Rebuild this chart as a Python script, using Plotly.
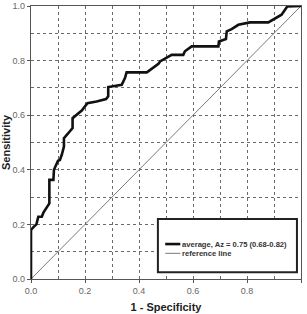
import plotly.graph_objects as go

# ROC curve points (1 - specificity, sensitivity)
fpr = [0.0, 0.0, 0.009, 0.02, 0.027, 0.04, 0.046, 0.058, 0.068, 0.068, 0.083, 0.085, 0.093,
       0.10, 0.107, 0.114, 0.122, 0.122, 0.138, 0.154, 0.154, 0.169, 0.188, 0.209, 0.243,
       0.278, 0.286, 0.286, 0.311, 0.336, 0.348, 0.354, 0.429, 0.453, 0.472, 0.478, 0.521,
       0.564, 0.57, 0.595, 0.694, 0.696, 0.722, 0.725, 0.743, 0.768, 0.811, 0.879, 0.916,
       0.928, 0.949, 1.0]
tpr = [0.0, 0.18, 0.19, 0.2, 0.228, 0.228, 0.243, 0.26, 0.277, 0.363, 0.363, 0.4, 0.418,
       0.433, 0.436, 0.455, 0.485, 0.516, 0.534, 0.553, 0.589, 0.601, 0.617, 0.644, 0.65,
       0.659, 0.669, 0.703, 0.708, 0.711, 0.736, 0.757, 0.757, 0.773, 0.788, 0.797, 0.821,
       0.821, 0.834, 0.852, 0.852, 0.87, 0.879, 0.907, 0.915, 0.931, 0.94, 0.94, 0.962,
       0.968, 0.998, 1.0]
ref_x = [0.0, 1.0]
ref_y = [0.0, 1.0]

legend_labels = ["average, Az = 0.75 (0.68-0.82)", "reference line"]
tick_vals = [0.0, 0.2, 0.4, 0.6, 0.8, 1.0]
tick_text = ["0.0", "0.2", "0.4", "0.6", "0.8", "1.0"]

FONT = "Liberation Sans, Arial, sans-serif"

fig = go.Figure()
fig.add_trace(go.Scatter(x=ref_x, y=ref_y, mode="lines",
                         line=dict(color="#7a7a7a", width=1), showlegend=False,
                         hoverinfo="skip"))
fig.add_trace(go.Scatter(x=fpr, y=tpr, mode="lines",
                         line=dict(color="#111111", width=2.6), showlegend=False))

axis_common = dict(
    range=[0, 1], tickvals=tick_vals, ticktext=tick_text,
    showgrid=True, gridcolor="#6a6a6a", griddash="dot", gridwidth=1,
    minor=dict(dtick=0.1, showgrid=True, gridcolor="#6a6a6a", griddash="dot", gridwidth=1),
    showline=True, linecolor="#555555", linewidth=1.2, mirror=True,
    ticks="outside", ticklen=3, tickcolor="#555555",
    tickfont=dict(family=FONT, size=9, color="#666666"),
    zeroline=False, fixedrange=True, automargin=False,
)
fig.update_xaxes(**axis_common,
                 title=dict(text="<b>1 - Specificity</b>", font=dict(family=FONT, size=11, color="#222222"),
                            standoff=8))
fig.update_yaxes(**axis_common,
                 title=dict(text="<b>Sensitivity</b>", font=dict(family=FONT, size=11, color="#222222"),
                            standoff=4))

# Legend box (drawn manually)
fig.add_shape(type="rect", xref="paper", yref="paper", x0=0.47, x1=0.985, y0=0.025, y1=0.22,
              line=dict(color="#222222", width=2), fillcolor="white", layer="above")
row_y = [0.128, 0.094]
widths = [2.6, 1]
colors = ["#111111", "#7a7a7a"]
for lbl, yy, w, c in zip(legend_labels, row_y, widths, colors):
    fig.add_shape(type="line", xref="paper", yref="paper", x0=0.497, x1=0.553, y0=yy, y1=yy,
                  line=dict(color=c, width=w), layer="above")
    fig.add_annotation(text="<b>" + lbl + "</b>", xref="paper", yref="paper", x=0.553, y=yy,
                       xanchor="left", yanchor="middle", showarrow=False,
                       font=dict(family=FONT, size=7.6, color="#333333"))

fig.update_layout(
    width=307, height=314,
    margin=dict(l=31, r=6, t=6, b=35),
    paper_bgcolor="white", plot_bgcolor="white",
    showlegend=False,
)
fig.write_html("out.html", config={"displayModeBar": False})
